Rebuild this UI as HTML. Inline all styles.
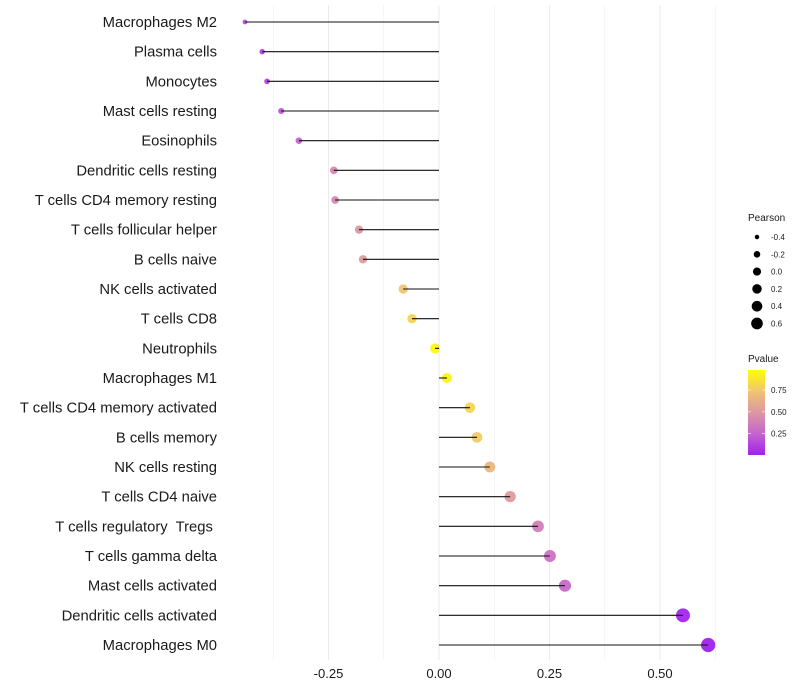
<!DOCTYPE html>
<html><head><meta charset="utf-8"><style>
html,body{margin:0;padding:0;background:#fff;}
svg{display:block;font-family:"Liberation Sans",sans-serif;}
svg text{white-space:pre;}
</style></head><body>
<svg id="chart" width="800" height="700" viewBox="0 0 800 700" xmlns="http://www.w3.org/2000/svg">
<g id="grid"></g>
<g id="ylabels"></g>
<g id="marks"></g>
<g id="xlabels"></g>
<g id="legend"></g>
</svg>
<script>
const categories = ["Macrophages M2","Plasma cells","Monocytes","Mast cells resting","Eosinophils","Dendritic cells resting","T cells CD4 memory resting","T cells follicular helper","B cells naive","NK cells activated","T cells CD8","Neutrophils","Macrophages M1","T cells CD4 memory activated","B cells memory","NK cells resting","T cells CD4 naive","T cells regulatory  Tregs ","T cells gamma delta","Mast cells activated","Dendritic cells activated","Macrophages M0"];
const pearson = [-0.439,-0.400,-0.389,-0.357,-0.317,-0.238,-0.235,-0.181,-0.172,-0.081,-0.061,-0.009,0.018,0.070,0.086,0.115,0.161,0.224,0.251,0.285,0.552,0.609];
const pvalue = [0.18,0.13,0.13,0.2,0.25,0.42,0.42,0.5,0.52,0.75,0.82,0.98,0.95,0.82,0.78,0.68,0.52,0.38,0.32,0.27,0.02,0.005];
const xTicks = [-0.25,0,0.25,0.5];
const xTickLabels = ["-0.25","0.00","0.25","0.50"];
const sizeLegend = [-0.4,-0.2,0.0,0.2,0.4,0.6];
const sizeLegendLabels = ["-0.4","-0.2","0.0","0.2","0.4","0.6"];
const colorLegendTicks = [0.25,0.5,0.75];
const colorLegendLabels = ["0.25","0.50","0.75"];

const NS="http://www.w3.org/2000/svg";
const X0=439, XS=442;
const x = v => X0 + v*XS;
const y = i => 22 + i*(645-22)/(categories.length-1);
const rad = v => Math.sqrt(Math.max(1, 20.5 + 35.75*v));
const stops=[[0,[160,32,240]],[0.25,[198,100,204]],[0.5,[220,151,163]],[0.75,[240,196,114]],[1,[255,255,0]]];
function col(p){
  for(let k=0;k<stops.length-1;k++){
    const a=stops[k],b=stops[k+1];
    if(p<=b[0]){const t=(p-a[0])/(b[0]-a[0]);
      return "rgb("+a[1].map((c,j)=>Math.round(c+(b[1][j]-c)*t)).join(",")+")";}
  }
  return "rgb(255,255,0)";
}
function mk(tag,attrs,parent){const e=document.createElementNS(NS,tag);for(const k in attrs)e.setAttribute(k,attrs[k]);parent.appendChild(e);return e;}

const grid=document.getElementById('grid');
for(let v=-0.375; v<=0.626; v+=0.125){
  const g=mk('line',{x1:x(v),x2:x(v),y1:5,y2:660,stroke:'#ebebeb','stroke-width':Math.abs(v*4-Math.round(v*4))<1e-6?1:0.5},grid);
  
  
}
const yl=document.getElementById('ylabels');
const marks=document.getElementById('marks');
categories.forEach((c,i)=>{
  const t=mk('text',{x:217,y:y(i)+5,'text-anchor':'end','font-size':14.8,fill:'#1a1a1a'},yl);
  t.textContent=c;
  
  
  const pt=mk('circle',{cx:x(pearson[i]),cy:y(i),r:rad(pearson[i])*1.1,fill:col(pvalue[i]),'fill-opacity':0.95},marks);
  
  
  const ln=mk('line',{x1:x(0),x2:x(pearson[i]),y1:y(i),y2:y(i),stroke:'#111','stroke-width':1.1},marks);
  
  
});
const xl=document.getElementById('xlabels');
xTicks.forEach((v,i)=>{
  const t=mk('text',{x:x(v),y:678,'text-anchor':'middle','font-size':13,fill:'#1a1a1a'},xl);
  t.textContent=xTickLabels[i];
  
  
});
const lg=document.getElementById('legend');
const t1=mk('text',{x:748,y:221,'font-size':10,fill:'#1a1a1a'},lg);t1.textContent='Pearson';


sizeLegend.forEach((v,i)=>{
  const cy=237+i*17.3;
  const c=mk('circle',{cx:757,cy:cy,r:rad(v)*0.9,fill:'#000'},lg);
  
  
  const t=mk('text',{x:771,y:cy+3,'font-size':8,fill:'#1a1a1a'},lg);t.textContent=sizeLegendLabels[i];
  
  
});
const t2=mk('text',{x:748,y:362,'font-size':10,fill:'#1a1a1a'},lg);t2.textContent='Pvalue';


const defs=mk('defs',{},lg);
const grad=mk('linearGradient',{id:'pg',x1:0,y1:1,x2:0,y2:0},defs);
stops.forEach(s=>mk('stop',{offset:s[0],'stop-color':col(s[0])},grad));
const barTop=370,barBot=455,pmin=0.005,pmax=0.98;
const bar=mk('rect',{x:748,y:barTop,width:17,height:barBot-barTop,fill:'url(#pg)'},lg);


colorLegendTicks.forEach((v,i)=>{
  const yy=barBot-(v-pmin)/(pmax-pmin)*(barBot-barTop);
  mk('line',{x1:748,x2:751,y1:yy,y2:yy,stroke:'#fff','stroke-width':0.6},lg);
  mk('line',{x1:762,x2:765,y1:yy,y2:yy,stroke:'#fff','stroke-width':0.6},lg);
  const t=mk('text',{x:771,y:yy+3,'font-size':8,fill:'#1a1a1a'},lg);t.textContent=colorLegendLabels[i];
  
  
});
</script>
</body></html>
